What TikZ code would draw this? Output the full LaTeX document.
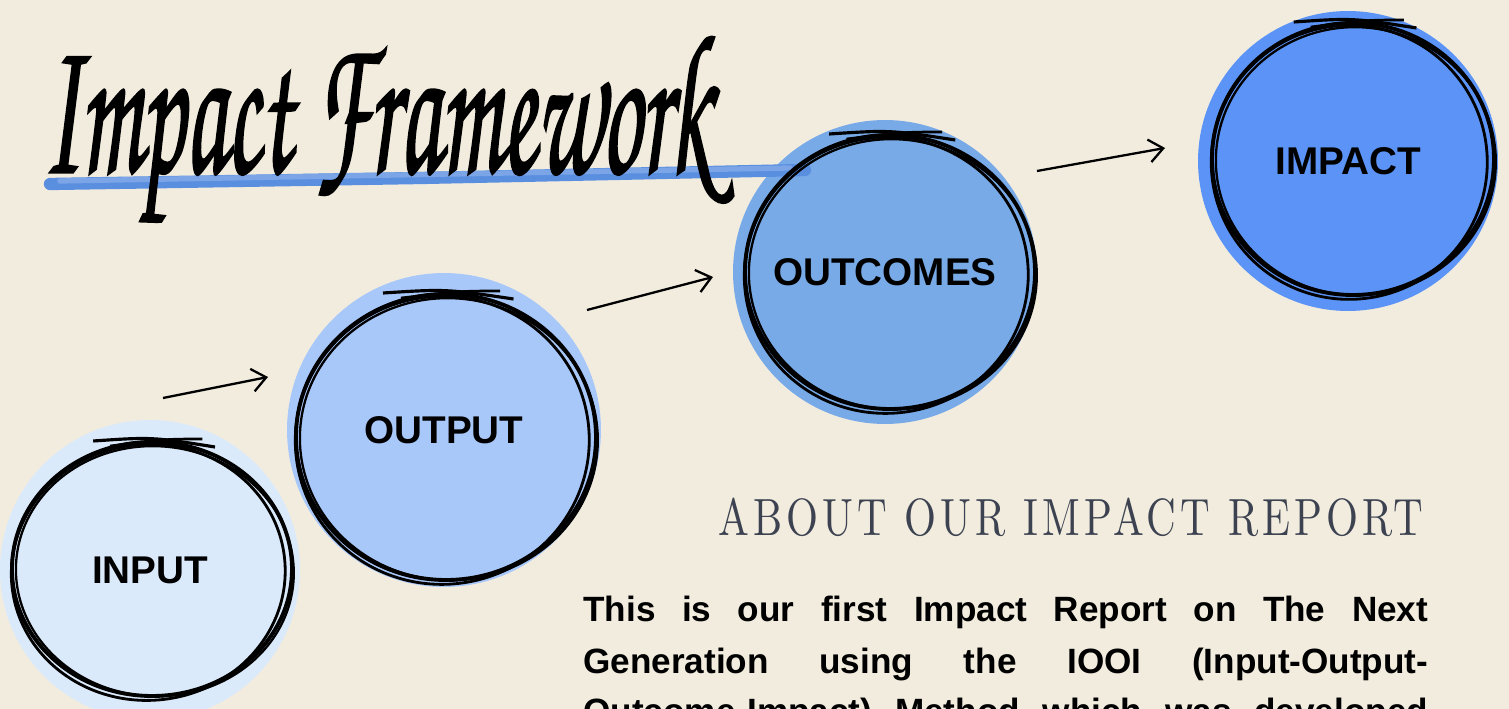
\documentclass[tikz,border=0pt]{standalone}
\usepackage{fontspec}
\usepackage{graphicx}
\setsansfont{Liberation Sans}
\newfontfamily\titlefont[FakeBold=1.5]{texgyrechorus-mediumitalic.otf}
\newfontfamily\headfont[LetterSpace=10]{Latin Modern Roman}
\usepackage{tikz}
\usetikzlibrary{arrows.meta}
\definecolor{cream}{HTML}{F2ECDF}
\definecolor{paleblue}{HTML}{DBEAFB}
\definecolor{softblue}{HTML}{A9C8FA}
\definecolor{midblue}{HTML}{78AAE8}
\definecolor{brightblue}{HTML}{5B94F6}
\definecolor{brushblue}{HTML}{5A8FE0}
\definecolor{slategrey}{HTML}{3C4250}

\tikzset{
  stage/.style={circle, inner sep=0pt, minimum size=#1, font=\sffamily\bfseries\fontsize{22}{26}\selectfont},
  ring/.style={line width=2.2pt, black},
  sketcharrow/.style={line width=1.3pt, -{Straight Barb[length=8pt, width=13pt, line width=1.3pt]}}
}

% hand drawn ring: centre x, centre y, x radius, y radius
\newcommand{\ringsketch}[4]{%
  \draw[ring] (#1,#2) ellipse [x radius=#3, y radius=#4];
  \draw[ring, line width=1.6pt, rotate around={5:(#1,#2)}] ({#1-4},{#2+3}) ellipse [x radius={#3-3}, y radius={#4+1}];
  \draw[ring, line width=1.3pt, rotate around={-4:(#1,#2)}] ({#1+3},{#2+2}) ellipse [x radius={#3-1}, y radius={#4-2}];
  \draw[ring, line width=1.8pt] ({#1-0.42*#3},{#2-#4-1}) .. controls ({#1},{#2-#4-5}) .. ({#1+0.45*#3},{#2-#4+5});
  \draw[ring, line width=1.5pt] ({#1-0.3*#3},{#2-#4+4}) .. controls ({#1+0.1*#3},{#2-#4-3}) .. ({#1+0.36*#3},{#2-#4-3});
}

\begin{document}
\begin{tikzpicture}[x=0.02cm, y=-0.02cm]

        % page
        \useasboundingbox (0,0) rectangle (1509,709);
        \clip (0,0) rectangle (1509,709);
        \fill[cream] (0,0) rectangle (1509,709);

        % stage discs
        \node[stage=6cm, fill=paleblue] (input) at (150,570) {INPUT};
        \node[stage=6.28cm, fill=softblue] (output) at (444,430) {OUTPUT};
        \node[stage=6.08cm, fill=midblue] (outcomes) at (885,272) {OUTCOMES};
        \node[stage=6cm, fill=brightblue] (impact) at (1348,161) {IMPACT};

        % brush underline
        \draw[brushblue, line width=7pt, line cap=round] (50,184) -- (420,178) -- (805,170);
        \draw[brushblue!80!white, line width=3pt, line cap=round] (60,181) -- (790,168);

        % title
        \node[anchor=base west, inner sep=0pt] (title) at (42,172)
          {\resizebox{13.4cm}{2.7cm}{\titlefont Impact Framework}};

        % sketched rings
        \ringsketch{152}{569}{140}{127}
        \ringsketch{446}{437}{150}{143}
        \ringsketch{890}{272}{145}{137}
        \ringsketch{1353}{159}{141}{136}

        % arrows between stages
        \coordinate (a1s) at (163,398);
        \coordinate (a1e) at (268,377);
        \coordinate (a2s) at (587,310);
        \coordinate (a2e) at (713,277);
        \coordinate (a3s) at (1037,171);
        \coordinate (a3e) at (1165,148);
        \draw[sketcharrow] (a1s) -- (a1e);
        \draw[sketcharrow] (a2s) -- (a2e);
        \draw[sketcharrow] (a3s) -- (a3e);

        % about heading
        \node[anchor=base west, inner sep=0pt, text=slategrey] (about) at (718,536)
          {\resizebox{14.1cm}{0.75cm}{\headfont ABOUT OUR IMPACT REPORT}};

        % body text
        \node[anchor=base west, inner sep=0pt, font=\sffamily\bfseries\fontsize{20}{29}\selectfont] (body1) at (583,622)
          {\makebox[16.9cm][s]{This is our first Impact Report on The Next}};
        \node[anchor=base west, inner sep=0pt, font=\sffamily\bfseries\fontsize{20}{29}\selectfont] (body2) at (583,673)
          {\makebox[16.9cm][s]{Generation using the IOOI (Input-Output-}};
        \node[anchor=base west, inner sep=0pt, font=\sffamily\bfseries\fontsize{20}{29}\selectfont] (body3) at (583,724)
          {\makebox[16.9cm][s]{Outcome-Impact) Method which was developed}};

\end{tikzpicture}
\end{document}
